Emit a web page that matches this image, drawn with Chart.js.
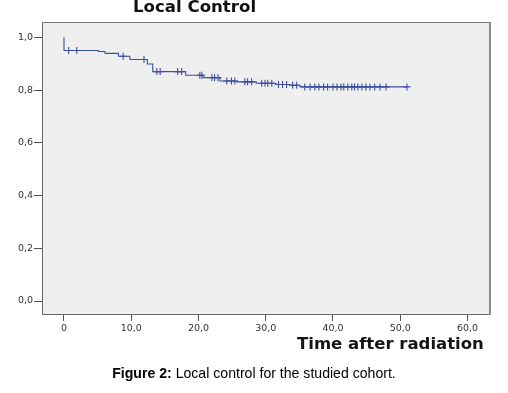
<!DOCTYPE html>
<html>
<head>
<meta charset="utf-8">
<script src="https://cdn.jsdelivr.net/npm/chart.js@4"></script>
<style>
  html, body { margin: 0; padding: 0; background: #fff; }
  #wrap { position: relative; width: 508px; height: 393px; overflow: hidden; }
  #c { position: absolute; left: 0; top: 0; }
  .t { position: absolute; white-space: nowrap; }
  #title { left: 133px; top: -1px; font: bold 16.6px/16.5px "DejaVu Sans", sans-serif; color: #111; }
  #xtitle { left: 297px; top: 336px; font: bold 16.5px/16.5px "DejaVu Sans", sans-serif; color: #151515; }
  #caption { left: 0; width: 508px; text-align: center; top: 366px; font: 14.1px/14px "Liberation Sans", Arial, sans-serif; color: #000; }
</style>
</head>
<body>
<div id="wrap">
  <canvas id="c" width="508" height="393"></canvas>
  <div class="t" id="title">Local Control</div>
  <div class="t" id="xtitle">Time after radiation</div>
  <div class="t" id="caption"><b>Figure 2:</b> Local control for the studied cohort.</div>
</div>
<script>
// Kaplan-Meier step points (event times and survival after each event)
const eventTimes = [0, 0, 5.1, 6.1, 8.1, 9.8, 12.4, 13.2, 18.1, 20.7, 23.2, 25.7, 28.6, 31.5, 33.6, 35.1, 51.0];
const eventSurv  = [1.000, 0.950, 0.946, 0.939, 0.928, 0.916, 0.899, 0.870, 0.856, 0.847, 0.834, 0.831, 0.826, 0.821, 0.818, 0.812, 0.812];

// Censored observations
const censorTimes = [0.7, 1.9, 8.8, 11.9, 13.8, 14.3, 16.9, 17.5, 20.2, 20.5, 22.0, 22.4, 22.9, 24.2, 24.9, 25.4,
  26.9, 27.3, 27.9, 29.4, 29.9, 30.3, 30.9, 31.9, 32.5, 33.1, 34.0, 34.6, 35.8, 36.6, 37.3, 37.9, 38.6, 39.2,
  40.0, 40.6, 41.2, 41.6, 42.2, 42.8, 43.2, 43.7, 44.3, 44.9, 45.5, 46.2, 47.0, 47.9, 51.0];
const censorSurv = [0.950, 0.950, 0.928, 0.916, 0.870, 0.870, 0.870, 0.870, 0.856, 0.856, 0.847, 0.847, 0.847, 0.834, 0.834, 0.834,
  0.831, 0.831, 0.831, 0.826, 0.826, 0.826, 0.826, 0.821, 0.821, 0.821, 0.818, 0.818, 0.812, 0.812, 0.812, 0.812, 0.812, 0.812,
  0.812, 0.812, 0.812, 0.812, 0.812, 0.812, 0.812, 0.812, 0.812, 0.812, 0.812, 0.812, 0.812, 0.812, 0.812];

// Tick values
const xTicks = [0, 10, 20, 30, 40, 50, 60];
const yTicks = [0, 0.2, 0.4, 0.6, 0.8, 1.0];

const lineColor = '#3d4f9f';

const framePlugin = {
  id: 'frame',
  beforeDraw(chart) {
    const { ctx, chartArea: a } = chart;
    ctx.save();
    ctx.fillStyle = '#efefef';
    ctx.fillRect(a.left, a.top, a.right - a.left, a.bottom - a.top);
    ctx.restore();
  },
  afterDraw(chart) {
    const { ctx, chartArea: a } = chart;
    ctx.save();
    ctx.lineWidth = 1;
    ctx.strokeStyle = '#666';
    ctx.beginPath();
    ctx.moveTo(a.left + 0.5, a.top);
    ctx.lineTo(a.left + 0.5, a.bottom);
    ctx.moveTo(a.left, a.bottom - 0.5);
    ctx.lineTo(a.right, a.bottom - 0.5);
    ctx.stroke();
    ctx.strokeStyle = '#7a7a7a';
    ctx.beginPath();
    ctx.moveTo(a.left, a.top + 0.5);
    ctx.lineTo(a.right, a.top + 0.5);
    ctx.stroke();
    ctx.strokeStyle = '#8a8a8a';
    ctx.lineWidth = 2;
    ctx.beginPath();
    ctx.moveTo(a.right - 1, a.top);
    ctx.lineTo(a.right - 1, a.bottom);
    ctx.stroke();
    ctx.restore();
  }
};

const fmt = v => (v === 0 ? '0' : v.toFixed(1).replace('.', ','));

new Chart(document.getElementById('c'), {
  type: 'scatter',
  data: {
    datasets: [
      {
        type: 'line',
        data: eventTimes.map((t, i) => ({ x: t, y: eventSurv[i] })),
        borderColor: lineColor,
        borderWidth: 1.1,
        stepped: 'before',
        pointRadius: 0,
        fill: false,
        order: 2
      },
      {
        type: 'scatter',
        data: censorTimes.map((t, i) => ({ x: t, y: censorSurv[i] })),
        pointStyle: 'cross',
        pointRadius: 3.5,
        borderColor: lineColor,
        backgroundColor: lineColor,
        borderWidth: 1.1,
        order: 1
      }
    ]
  },
  options: {
    responsive: false,
    animation: false,
    events: [],
    layout: { padding: { top: 22, right: 17, left: 0, bottom: 0 } },
    plugins: { legend: { display: false }, tooltip: { enabled: false }, title: { display: false } },
    scales: {
      x: {
        type: 'linear',
        min: -3.27,
        max: 63.5,
        afterBuildTicks: s => { s.ticks = xTicks.map(v => ({ value: v })); },
        afterFit: s => { s.height = 78; },
        grid: { drawOnChartArea: false, drawTicks: true, tickLength: 6, color: '#555' },
        border: { display: false },
        ticks: {
          callback: v => fmt(v),
          font: { family: 'DejaVu Sans', size: 9.5 },
          color: '#333',
          padding: 2,
          maxRotation: 0,
          autoSkip: false
        }
      },
      y: {
        type: 'linear',
        min: -0.053,
        max: 1.058,
        afterBuildTicks: s => { s.ticks = yTicks.map(v => ({ value: v })); },
        afterFit: s => { s.width = 42; },
        grid: { drawOnChartArea: false, drawTicks: true, tickLength: 8, color: '#555' },
        border: { display: false },
        ticks: {
          callback: v => v.toFixed(1).replace('.', ','),
          font: { family: 'DejaVu Sans', size: 9.5 },
          color: '#333',
          padding: 1,
          autoSkip: false
        }
      }
    }
  },
  plugins: [framePlugin]
});
</script>
</body>
</html>
